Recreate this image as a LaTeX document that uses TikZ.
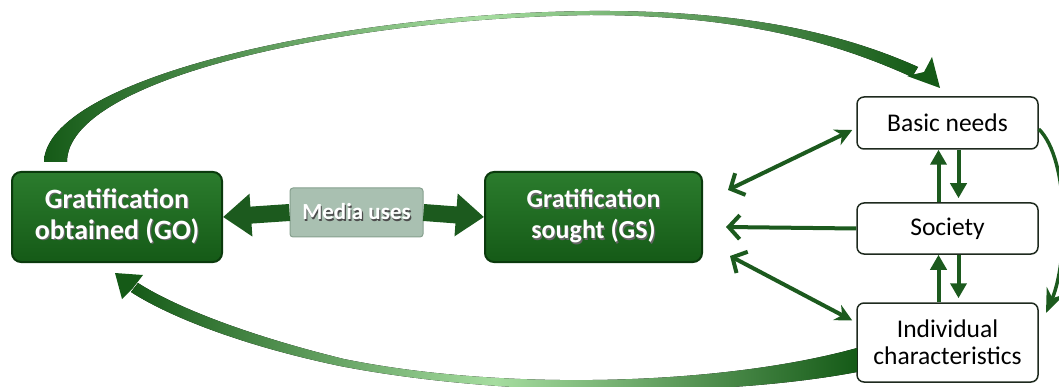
\documentclass[tikz,border=0pt]{standalone}
\usepackage{fontspec}
\setmainfont{Carlito}
\usetikzlibrary{arrows.meta,calc}
\definecolor{gdark}{HTML}{155A17}
\definecolor{gmid}{HTML}{2B7C2D}
\definecolor{gedge}{HTML}{0B3A0D}
\definecolor{garrow}{HTML}{1C5A1E}
\definecolor{glight}{HTML}{A6DDA0}
\definecolor{mediafill}{HTML}{A9C0B1}
\definecolor{mediaedge}{HTML}{86A08E}
\definecolor{boxedge}{HTML}{1E2A1E}
% white lettering with a soft dark drop shadow
\newcommand{\shadowed}[2]{\rlap{\kern1.2pt\raisebox{-1.2pt}{\color{#1}#2}}#2}
\begin{document}
\begin{tikzpicture}[x=1pt,y=-1pt,
  greenbox/.style={draw=gedge, line width=2pt, rounded corners=9pt,
    top color=gmid, bottom color=gdark, text=white, align=center,
    inner sep=0pt},
  mediabox/.style={draw=mediaedge, line width=1pt, rounded corners=3pt,
    fill=mediafill, text=white, inner sep=0pt,
    font=\fontsize{23}{27}\selectfont\bfseries},
  whitebox/.style={draw=boxedge, line width=1.5pt, rounded corners=7pt,
    fill=white, align=center, inner sep=0pt, minimum width=181pt,
    font=\fontsize{25.5}{27}\selectfont},
  blockarrow/.style={garrow, line width=17pt,
    -{Triangle[length=28pt,width=41pt]}},
  thinarrow/.style={garrow, line width=4pt},
  gbarb/.tip={Straight Barb[length=11pt,width=24pt,line width=4pt]},
  vhead/.style={-{Triangle[length=15pt,width=16pt]}},
]
\useasboundingbox (0,0) rectangle (1059,387);

% main boxes
\node[greenbox, minimum width=210pt, minimum height=90pt,
  font=\fontsize{28}{31}\selectfont\bfseries] (go) at (117,217)
  {\shadowed{black!60}{Gratification}\\\shadowed{black!60}{obtained (GO)}};
\node[greenbox, minimum width=217pt, minimum height=90pt,
  font=\fontsize{26}{31}\selectfont\bfseries] (gs) at (593.5,217)
  {\shadowed{black!60}{Gratification}\\\shadowed{black!60}{sought (GS)}};
\node[mediabox, minimum width=133pt, minimum height=49pt] (media) at (356.5,212.5)
  {\shadowed{black!70}{Media uses}};

% right-hand column
\node[whitebox, minimum height=52pt] (basic) at (947.5,123) {Basic needs};
\node[whitebox, minimum height=51pt] (society) at (947.5,228.5) {Society};
\node[whitebox, minimum height=79pt] (indiv) at (947.5,342.5)
  {Individual\\characteristics};

% block arrows out of media uses
\draw[blockarrow] (media.west) -- (go.east);
\draw[blockarrow] (media.east) -- (gs.west);

% arrows between the column and GS
\coordinate (gsA) at (728,190);
\coordinate (gsB) at (726,227);
\coordinate (gsC) at (730,256);
\draw[thinarrow, {gbarb}-{Stealth[length=17pt,width=17pt]}]
  (gsA) -- ($(basic.west)+(-4,7)$);
\draw[thinarrow, -{gbarb}]
  (society.west) -- (gsB);
\draw[thinarrow, {gbarb}-{Stealth[length=17pt,width=17pt]}]
  (gsC) -- ($(indiv.west)+(-4,-22)$);

% vertical arrows inside the column
\draw[thinarrow, vhead]
  ($(society.north)+(-9,0)$) -- ($(basic.south)+(-9,0)$);
\draw[thinarrow, vhead]
  ($(basic.south)+(11,0)$) -- ($(society.north)+(11,-4)$);
\draw[thinarrow, vhead]
  ($(indiv.north)+(-9,0)$) -- ($(society.south)+(-9,0)$);
\draw[thinarrow, vhead]
  ($(society.south)+(11,0)$) -- ($(indiv.north)+(11,-4)$);

% right loop from basic needs to individual characteristics
\coordinate (rtip) at (1046,313);
\draw[garrow, line width=3.5pt, -{Stealth[length=24pt,width=19pt]}]
  ($(basic.east)+(0,6)$) .. controls (1070,160) and (1068,262) .. (rtip);

% top sweep from GO to basic needs (tapered band)
\fill[left color=gdark, right color=gdark, middle color=glight]
  (44,162) .. controls (46,80) and (330,14) .. (590,11)
  .. controls (740,10) and (840,32) .. (918,67)
  -- (912,77)
  .. controls (835,42) and (740,15) .. (590,15)
  .. controls (335,19) and (67,80) .. (67,162) -- cycle;
\fill[gdark] (940,88) -- (932,57) -- (924,72) -- (907,76) -- cycle;

% bottom sweep from individual characteristics to GO (tapered band)
\fill[left color=gdark, right color=gdark, middle color=glight]
  (857,372) .. controls (720,398) and (500,397) .. (340,366)
  .. controls (235,344) and (165,314) .. (131,292)
  -- (138,283)
  .. controls (172,305) and (242,334) .. (344,359)
  .. controls (500,391) and (720,386) .. (857,348) -- cycle;
\fill[gdark] (115,273) -- (143,275) -- (133,288) -- (122,299) -- cycle;
\end{tikzpicture}
\end{document}
